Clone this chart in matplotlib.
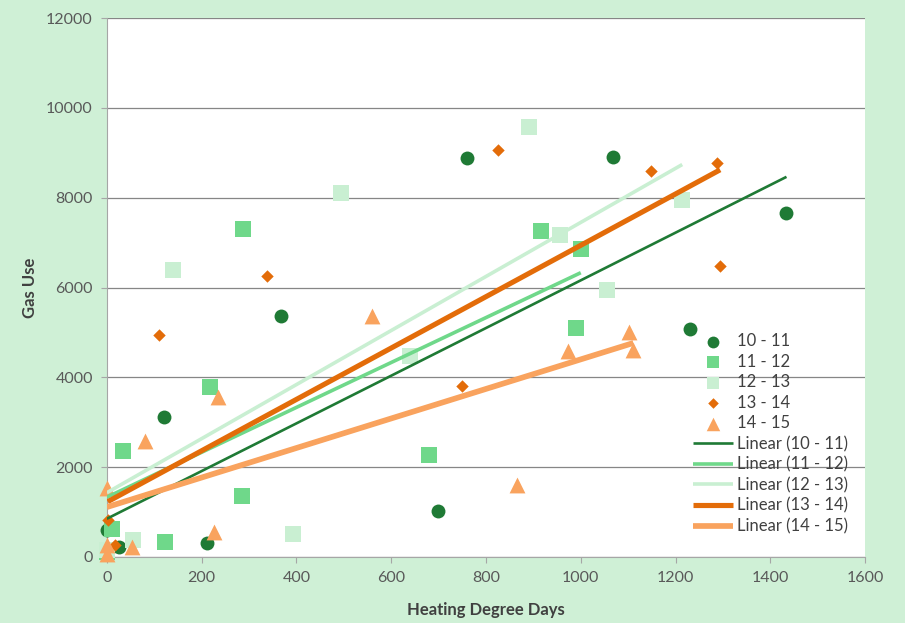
import numpy as np
import matplotlib
matplotlib.use('Agg')
import matplotlib.pyplot as plt

plt.rcParams['font.family'] = ['Lato', 'DejaVu Sans']

# heating seasons
seasons = ['10 - 11', '11 - 12', '12 - 13', '13 - 14', '14 - 15']

# heating degree days / gas use
hdd_1011 = [0, 25, 120, 211, 368, 698, 759, 1068, 1231, 1434]
gas_1011 = [600, 220, 3120, 310, 5360, 1025, 8880, 8900, 5075, 7660]

hdd_1112 = [0, 10, 34, 122, 217, 285, 287, 680, 917, 990, 1000]
gas_1112 = [100, 620, 2360, 330, 3785, 1360, 7300, 2270, 7260, 5100, 6860]

hdd_1213 = [0, 55, 140, 393, 494, 640, 891, 956, 1055, 1214]
gas_1213 = [150, 380, 6380, 510, 8100, 4475, 9575, 7170, 5945, 7950]

hdd_1314 = [2, 17, 110, 338, 749, 826, 1148, 1287, 1294]
gas_1314 = [825, 270, 4940, 6255, 3800, 9060, 8590, 8770, 6480]

hdd_1415 = [0, 0, 0, 53, 80, 226, 235, 559, 865, 973, 1102, 1111]
gas_1415 = [1535, 270, 60, 220, 2580, 560, 3560, 5365, 1600, 4590, 5010, 4610]

# linear trendlines as shown on the chart (intercept, slope)
trend_intercept = [850, 1330, 1430, 1220, 1110]
trend_slope = [5.31, 5.0, 6.02, 5.72, 3.29]

colors = ['#1f7a35', '#6fd88a', '#c9efd2', '#e36c09', '#f9a35e']
markers = ['o', 's', 's', 'D', '^']
sizes = [100, 117, 117, 40, 130]
trend_lw = [1.9, 2.6, 2.6, 3.7, 4.1]

xs = [hdd_1011, hdd_1112, hdd_1213, hdd_1314, hdd_1415]
ys = [gas_1011, gas_1112, gas_1213, gas_1314, gas_1415]

fig = plt.figure(figsize=(9.05, 6.23), dpi=100, facecolor='#cff0d6')
ax = fig.add_axes([0.118, 0.106, 0.838, 0.865])
ax.set_facecolor('white')

for i, s in enumerate(seasons):
    ax.scatter(xs[i], ys[i], s=sizes[i], marker=markers[i], color=colors[i],
               linewidths=0, label=s, zorder=3, clip_on=False)

for i, s in enumerate(seasons):
    xl = np.array([min(xs[i]), max(xs[i])])
    ax.plot(xl, trend_intercept[i] + trend_slope[i] * xl, color=colors[i],
            lw=trend_lw[i], solid_capstyle='butt', label=f'Linear ({s})', zorder=4)

ax.set_xlim(0, 1600)
ax.set_ylim(0, 12000)
ax.set_xticks(range(0, 1601, 200))
ax.set_yticks(range(0, 12001, 2000))
ax.yaxis.grid(True, color='#868686', lw=0.9)
ax.set_axisbelow(True)

for side in ['top', 'right']:
    ax.spines[side].set_visible(False)
ax.spines['left'].set_color('#a6a6a6')
ax.spines['bottom'].set_color('#a6a6a6')
ax.tick_params(direction='out', length=4, color='#a6a6a6', labelcolor='#595959',
               labelsize=11.5, pad=6)

ax.set_xlabel('Heating Degree Days', fontsize=12, fontweight='bold', color='#404040', labelpad=12)
ax.set_ylabel('Gas Use', fontsize=12, fontweight='bold', color='#404040', labelpad=6)

handles, labels = ax.get_legend_handles_labels()
ax.legend(handles, labels, loc='upper left', bbox_to_anchor=(0.773, 0.415),
          frameon=False, fontsize=12, labelspacing=0.27, handlelength=2.4,
          handletextpad=0.25, borderpad=0, borderaxespad=0, scatterpoints=1,
          markerscale=0.85, labelcolor='#404040')

fig.savefig('out.png', dpi=100, facecolor=fig.get_facecolor())
